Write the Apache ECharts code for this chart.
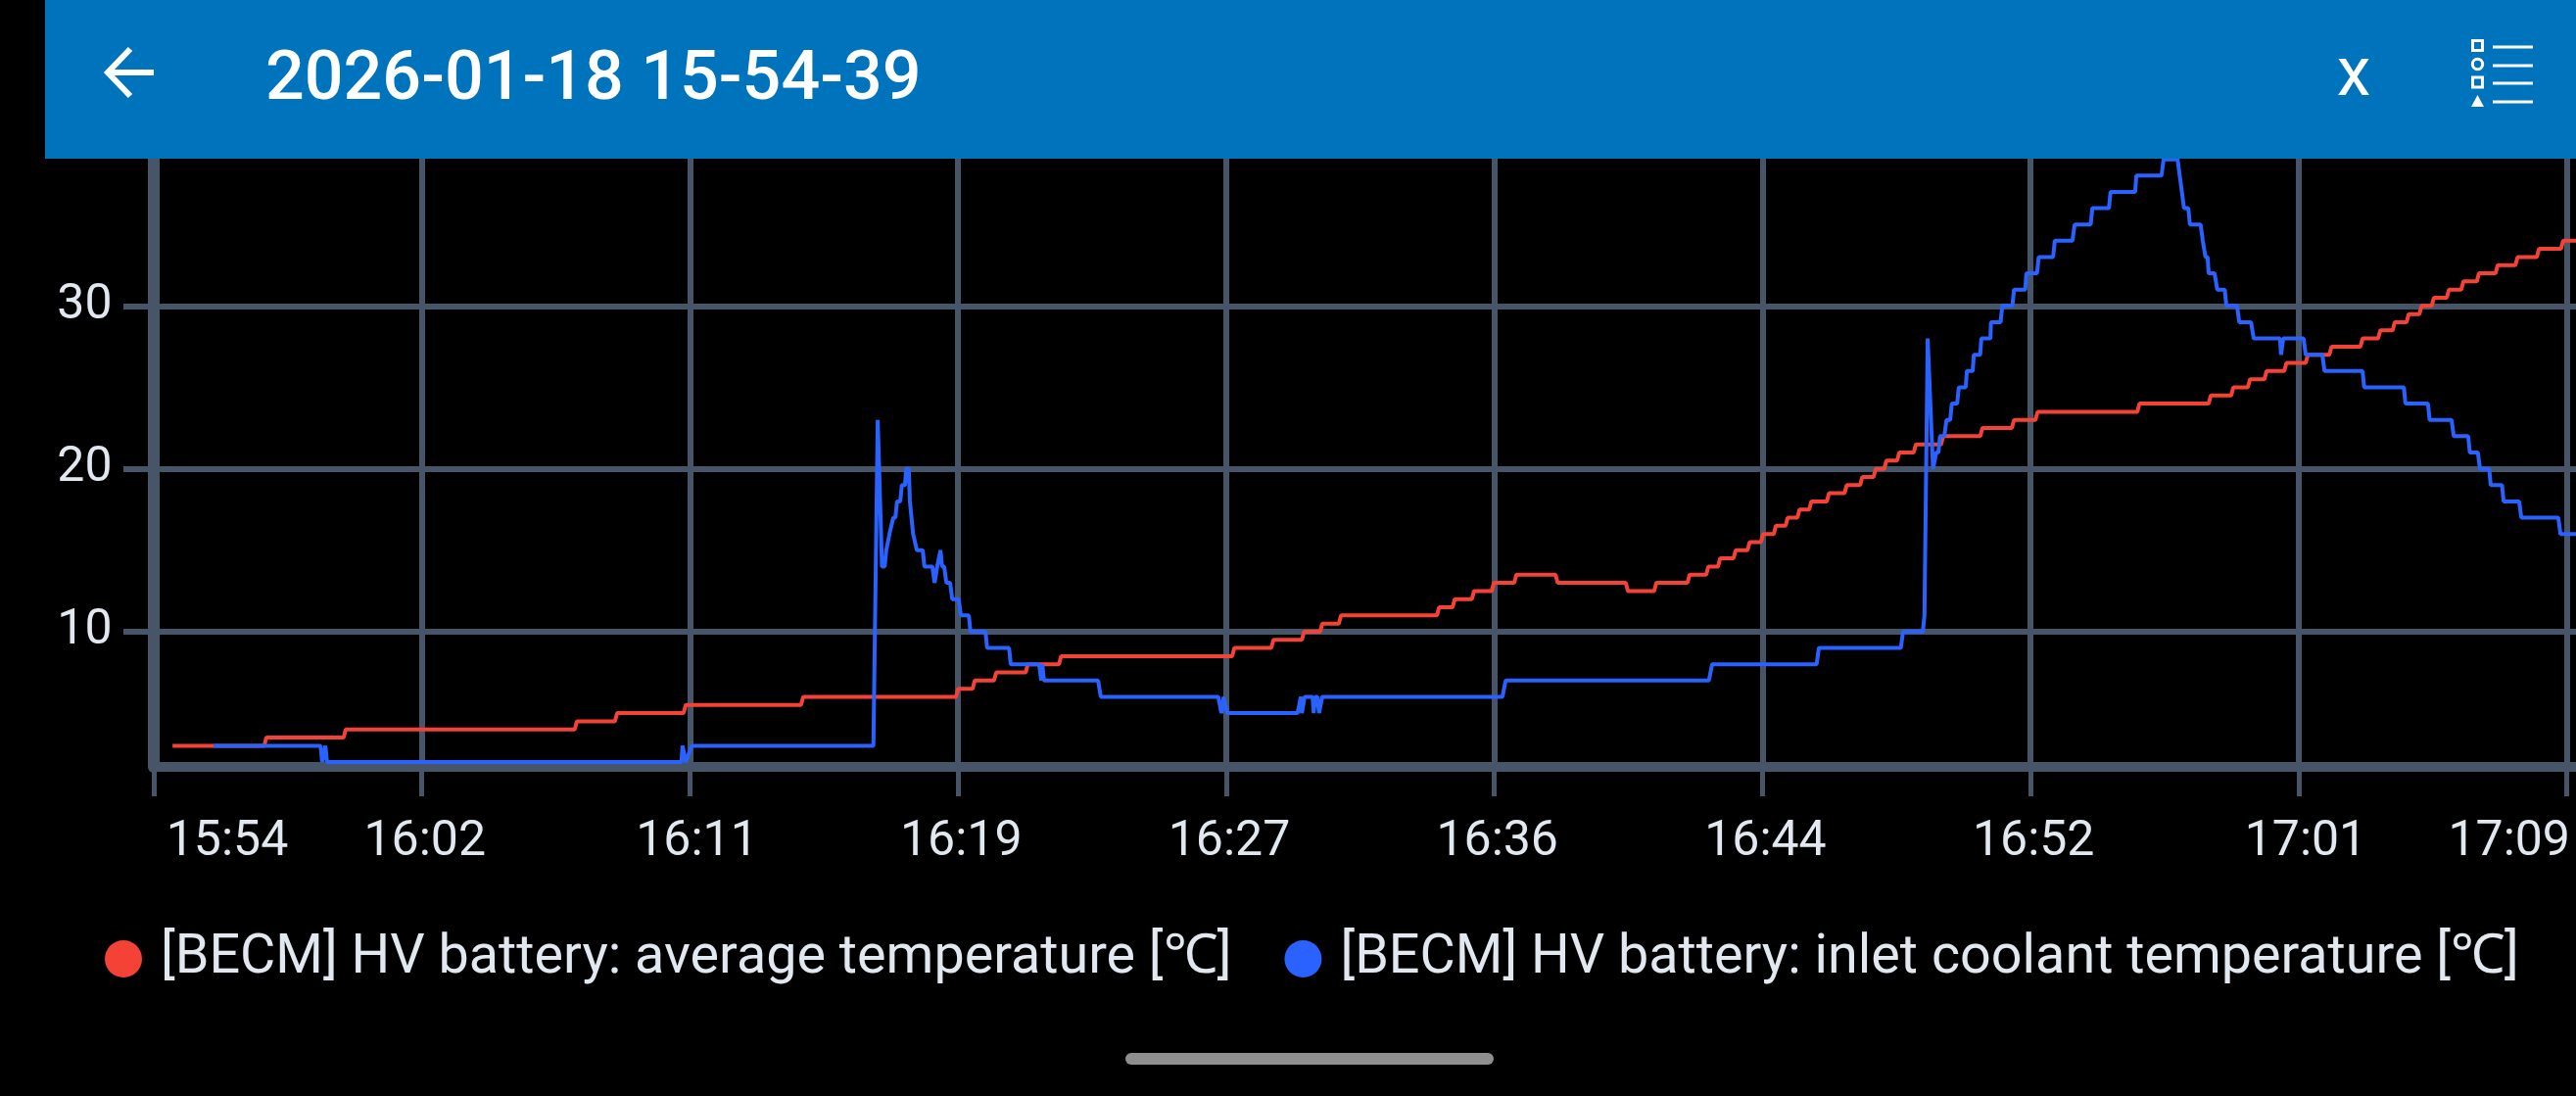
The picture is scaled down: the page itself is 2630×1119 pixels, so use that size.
<!DOCTYPE html>
<html>
<head>
<meta charset="utf-8">
<style>html,body{margin:0;padding:0;background:#000}#c{width:2630px;height:1119px}</style>
<script src="https://cdn.jsdelivr.net/npm/echarts@6/dist/echarts.min.js"></script>
</head>
<body>
<div id="c"></div>
<script>
const titleText = '2026-01-18 15-54-39';
const seriesNames = ['[BECM] HV battery: average temperature [℃]', '[BECM] HV battery: inlet coolant temperature [℃]'];
const tickLabels = ['15:54','16:02','16:11','16:19','16:27','16:36','16:44','16:52','17:01','17:09'];
const tickSeconds = [0,500,1000,1500,2000,2500,3000,3500,4000,4500];
const yTicks = [10,20,30];

// seconds since 15:54:39
const avgTimes = [35,206,210,354,358,785,789,860,864,988,992,1207,1211,1496,1500,1527,1531,1567,1571,1626,1630,1688,1692,2011,2015,2084,2088,2141,2145,2175,2179,2210,2214,2393,2397,2422,2426,2458,2462,2495,2499,2537,2541,2614,2618,2745,2749,2798,2802,2860,2864,2895,2899,2917,2921,2946,2950,2972,2976,2997,3001,3021,3025,3043,3047,3065,3069,3087,3091,3120,3124,3153,3157,3182,3186,3207,3211,3227,3231,3251,3255,3282,3286,3333,3337,3406,3410,3465,3469,3509,3513,3699,3703,3832,3836,3874,3878,3905,3909,3936,3940,3973,3977,4013,4017,4057,4061,4115,4119,4148,4152,4175,4179,4201,4205,4225,4229,4248,4252,4276,4280,4303,4307,4332,4336,4367,4371,4404,4408,4444,4448,4489,4493,4517];
const avgValues = [3,3,3.5,3.5,4,4,4.5,4.5,5,5,5.5,5.5,6,6,6.5,6.5,7,7,7.5,7.5,8,8,8.5,8.5,9,9,9.5,9.5,10,10,10.5,10.5,11,11,11.5,11.5,12,12,12.5,12.5,13,13,13.5,13.5,13,13,12.5,12.5,13,13,13.5,13.5,14,14,14.5,14.5,15,15,15.5,15.5,16,16,16.5,16.5,17,17,17.5,17.5,18,18,18.5,18.5,19,19,19.5,19.5,20,20,20.5,20.5,21,21,21.5,21.5,22,22,22.5,22.5,23,23,23.5,23.5,24,24,24.5,24.5,25,25,25.5,25.5,26,26,26.5,26.5,27,27,27.5,27.5,28,28,28.5,28.5,29,29,29.5,29.5,30,30,30.5,30.5,31,31,31.5,31.5,32,32,32.5,32.5,33,33,33.5,33.5,34,34];

const inletTimes = [111,311,314,320,323,984,986,992,995,1003,1342,1350,1358,1363,1366,1368,1372,1375,1379,1383,1386,1392,1395,1401,1403,1408,1410,1416,1419,1423,1434,1437,1452,1456,1459,1461,1467,1470,1474,1478,1485,1489,1501,1505,1520,1523,1551,1554,1595,1598,1651,1655,1657,1660,1761,1766,1985,1991,1995,1998,2002,2133,2139,2141,2146,2161,2163,2166,2170,2173,2179,2515,2521,2900,2906,3101,3105,3258,3262,3299,3302,3308,3318,3320,3324,3328,3331,3339,3343,3350,3353,3363,3366,3379,3381,3392,3394,3406,3408,3425,3426,3444,3447,3466,3469,3490,3492,3512,3515,3542,3545,3578,3582,3612,3615,3646,3649,3695,3697,3744,3748,3774,3778,3781,3786,3794,3797,3817,3821,3824,3826,3830,3832,3843,3848,3862,3865,3885,3889,3911,3916,3965,3967,3971,4009,4013,4044,4048,4119,4122,4196,4199,4241,4244,4285,4289,4316,4319,4334,4338,4355,4358,4379,4382,4411,4415,4484,4488,4517];
const inletValues = [3,3,2,3,2,2,3,2,2,3,3,23,14,14,15,15,16,16,17,17,18,18,19,19,20,20,18,16,16,15,15,14,14,13,13,14,15,14,14,13,13,12,12,11,11,10,10,9,9,8,8,7,8,7,7,6,6,5,6,6,5,5,6,5,6,6,5,6,6,5,6,6,7,7,8,8,9,9,10,10,11,28,20,20,21,21,22,22,23,23,24,24,25,25,26,26,27,27,28,28,29,29,30,30,31,31,32,32,33,33,34,34,35,35,36,36,37,37,38,38,39,39,38,38,36,36,35,35,34,34,33,33,32,32,31,31,30,30,29,29,28,28,27,28,28,27,27,26,26,25,25,24,24,23,23,22,22,21,21,20,20,19,19,18,18,17,17,16,16];

const pairUp = (xs, ys) => xs.map((x, i) => [x, ys[i]]);

const GRID = '#475569', TEXT = '#e2e8f0', FONT = 'Roboto';
const RED = '#f44336', BLUE = '#2962ff', HEADER = '#0073bd';
const labelStyle = {fontFamily: FONT, fontSize: 50, color: TEXT};
const white = {stroke: '#fff', lineWidth: 3, fill: 'none'};
const Z = 100;
const icon = [
  {type:'rect', z:Z, shape:{x:46,y:0,width:2584,height:162}, style:{fill:HEADER}},
  {type:'polyline', z:Z+1, shape:{points:[[133,50],[110,74],[133,98]]}, style:{stroke:'#fff',lineWidth:6,fill:'none'}},
  {type:'line', z:Z+1, shape:{x1:110,y1:74,x2:157,y2:74}, style:{stroke:'#fff',lineWidth:6}},
  {type:'text', z:Z+1, x:271, y:83, style:{text:titleText,fontFamily:FONT,fontSize:70,fontWeight:500,fill:'#fff',align:'left',verticalAlign:'middle'}},
  {type:'text', z:Z+1, x:2403, y:79, style:{text:'x',fontFamily:FONT,fontSize:70,fontWeight:400,fill:'#fff',align:'center',verticalAlign:'middle'}},
  {type:'rect', z:Z+1, shape:{x:2524.5,y:41.5,width:10,height:10}, style:white},
  {type:'circle', z:Z+1, shape:{cx:2529.5,cy:65.5,r:5.2}, style:white},
  {type:'rect', z:Z+1, shape:{x:2524.5,y:79,width:10,height:10}, style:white},
  {type:'polygon', z:Z+1, shape:{points:[[2529.5,97],[2536,109],[2523,109]]}, style:{fill:'#fff'}},
  {type:'line', z:Z+1, shape:{x1:2545,y1:48,x2:2586,y2:48}, style:{stroke:'#fff',lineWidth:3}},
  {type:'line', z:Z+1, shape:{x1:2545,y1:67,x2:2586,y2:67}, style:{stroke:'#fff',lineWidth:3}},
  {type:'line', z:Z+1, shape:{x1:2545,y1:85,x2:2586,y2:85}, style:{stroke:'#fff',lineWidth:3}},
  {type:'line', z:Z+1, shape:{x1:2545,y1:104,x2:2586,y2:104}, style:{stroke:'#fff',lineWidth:3}},
  {type:'rect', z:Z, shape:{x:1149,y:1075,width:376,height:12,r:6}, style:{fill:'#8f8f8f'}}
];

const chart = echarts.init(document.getElementById('c'), null, {renderer:'canvas'});
chart.setOption({
  animation: false,
  backgroundColor: '#000',
  grid: {left:157, top:146, width:2473, height:637},
  graphic: {elements: icon},
  legend: {
    left: 102, top: 946, itemWidth: 38, itemHeight: 38, itemGap: 54, icon: 'circle',
    textStyle: {fontFamily: FONT, fontSize: 55.7, color: TEXT, padding: [0,0,0,14]},
    data: seriesNames
  },
  xAxis: {
    type: 'value', min: 0, max: 4517,
    axisLine: {onZero:false, lineStyle:{color:GRID,width:10}},
    axisTick: {customValues: tickSeconds, length: 30, lineStyle:{color:GRID,width:5}},
    splitLine: {show:true, lineStyle:{color:GRID,width:6}},
    axisLabel: {
      customValues: tickSeconds, margin: 52, ...labelStyle,
      formatter: v => {
        const i = tickSeconds.indexOf(v);
        const t = tickLabels[i];
        const k = i === 0 ? 'a' : i === tickSeconds.length-1 ? 'b' : t.endsWith('1') ? 'd' : 'c';
        return '{' + k + '|' + t + '}';
      },
      rich: {
        a: {...labelStyle, padding:[0,0,0,150]},
        b: {...labelStyle, padding:[0,118,0,0]},
        c: {...labelStyle, padding:[0,0,0,6]},
        d: {...labelStyle, padding:[0,0,0,14]}
      }
    }
  },
  yAxis: {
    type: 'value', min: 1.7, max: 40, offset: 2.5,
    axisLine: {show:true, lineStyle:{color:GRID,width:12}},
    axisTick: {show:true, customValues: yTicks, length: 31, lineStyle:{color:GRID,width:6}},
    splitLine: {show:true, lineStyle:{color:GRID,width:6}},
    axisLabel: {customValues: yTicks, margin: 40, ...labelStyle}
  },
  series: [
    {name: seriesNames[0], type:'line', showSymbol:false, symbol:'circle', itemStyle:{color:RED}, lineStyle:{color:RED,width:4}, data: pairUp(avgTimes, avgValues), z:3},
    {name: seriesNames[1], type:'line', showSymbol:false, symbol:'circle', itemStyle:{color:BLUE}, lineStyle:{color:BLUE,width:4}, data: pairUp(inletTimes, inletValues), z:4}
  ]
});
</script>
</body>
</html>
